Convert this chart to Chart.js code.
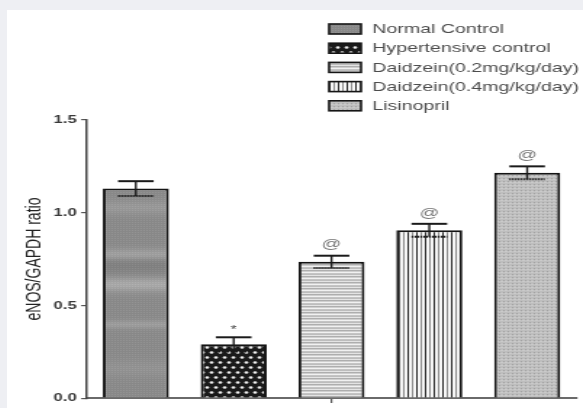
<!DOCTYPE html>
<html>
<head>
<meta charset="utf-8">
<script src="https://cdn.jsdelivr.net/npm/chart.js@4"></script>
<style>
  html, body { margin: 0; padding: 0; }
  body { width: 583px; height: 408px; background: #eeeff3; overflow: hidden; position: relative; }
  #panel { position: absolute; left: 7px; top: 10px; width: 576px; height: 398px; background: #fff; overflow: hidden; }
  /* the figure is drawn narrow and widened horizontally, like the exported graph */
  #wrap { position: absolute; left: 0; top: 0; width: 397px; height: 398px; transform: scaleX(1.4509); transform-origin: 0 0; }
</style>
</head>
<body>
<div id="panel"><div id="wrap"><canvas id="c"></canvas></div></div>
<script>
// Group names, mean eNOS/GAPDH ratios and their error (SEM)
const groups = ['Normal Control', 'Hypertensive control', 'Daidzein(0.2mg/kg/day)', 'Daidzein(0.4mg/kg/day)', 'Lisinopril'];
const ratioMean = [1.13, 0.29, 0.735, 0.905, 1.215];
const ratioSem = [0.04, 0.038, 0.033, 0.035, 0.035];
// Significance marks above each bar
const sigMarks = ['', '*', '@', '@', '@'];
// Y axis ticks
const yTicks = [0, 0.5, 1.0, 1.5];
const yTitle = 'eNOS/GAPDH ratio';

const canvas = document.getElementById('c');
const mainCtx = canvas.getContext('2d');

function tile(w, h, paint) {
  const t = document.createElement('canvas');
  t.width = w; t.height = h;
  paint(t.getContext('2d'), w, h);
  return mainCtx.createPattern(t, 'repeat');
}

// Normal Control: grey stipple with soft lighter bands
const patNormal = tile(4, 398, (g, w, h) => {
  const bands = [[197, 5, 14], [244, 4, 24], [254, 7, -10], [274, 5, 30], [314, 3, 18], [358, 6, 8]];
  for (let y = 0; y < h; y++) {
    let v = 138;
    bands.forEach(([c, s, a]) => { v += a * Math.exp(-((y - c) * (y - c)) / (2 * s * s)); });
    for (let x = 0; x < w; x++) {
      const d = (x % 2 === 0 && y % 2 === 0) ? 10 : -2;
      const c = Math.max(0, Math.min(255, Math.round(v + d)));
      g.fillStyle = `rgb(${c},${c},${c})`;
      g.fillRect(x, y, 1, 1);
    }
  }
});

// Hypertensive control: black ground with staggered white dots
const patHyper = tile(6, 10, (g, w, h) => {
  g.fillStyle = '#1a1a1a'; g.fillRect(0, 0, w, h);
  g.fillStyle = '#eeeeee';
  [[3, 2.5], [0, 7.5], [6, 7.5]].forEach(([x, y]) => { g.beginPath(); g.arc(x, y, 1.35, 0, Math.PI * 2); g.fill(); });
});

// Daidzein 0.2: horizontal grey stripes
const patLow = tile(2, 6, (g) => {
  ['#bdbdbd', '#e4e4e4', '#aeaeae', '#cfcfcf', '#f1f1f1', '#c4c4c4'].forEach((c, i) => { g.fillStyle = c; g.fillRect(0, i, 2, 1); });
});

// Daidzein 0.4: vertical lines on white
const patHigh = tile(6, 2, (g) => {
  g.fillStyle = '#f6f6f6'; g.fillRect(0, 0, 6, 2);
  g.fillStyle = '#2a2a2a'; g.fillRect(0, 0, 1, 2);
  g.fillStyle = '#8c8c8c'; g.fillRect(3, 0, 1, 2);
});

// Lisinopril: light grey fine stipple
const patLis = tile(3, 3, (g) => {
  g.fillStyle = '#bebebe'; g.fillRect(0, 0, 3, 3);
  g.fillStyle = '#a2a2a2'; g.fillRect(0, 0, 1, 1);
  g.fillStyle = '#cacaca'; g.fillRect(1, 1, 2, 1);
});

const fills = [patNormal, patHyper, patLow, patHigh, patLis];

// Error bars with dotted lower caps, and significance marks
const errorBars = {
  id: 'errorBars',
  afterDatasetsDraw(chart) {
    const ctx = chart.ctx, y = chart.scales.y;
    const meta = chart.getDatasetMeta(0);
    ctx.save();
    meta.data.forEach((bar, i) => {
      const x = bar.x;
      const hi = y.getPixelForValue(ratioMean[i] + ratioSem[i]);
      const lo = y.getPixelForValue(ratioMean[i] - ratioSem[i]);
      const half = bar.width * 0.27;
      ctx.strokeStyle = '#1a1a1a';
      ctx.setLineDash([]);
      ctx.lineWidth = 1.4;
      ctx.beginPath(); ctx.moveTo(x, hi); ctx.lineTo(x, lo); ctx.stroke();
      ctx.lineWidth = 2;
      ctx.beginPath(); ctx.moveTo(x - half, hi); ctx.lineTo(x + half, hi); ctx.stroke();
      ctx.setLineDash([1.2, 0.8]);
      ctx.beginPath(); ctx.moveTo(x - half, lo); ctx.lineTo(x + half, lo); ctx.stroke();
      ctx.setLineDash([]);
      const mark = sigMarks[i];
      if (mark) {
        ctx.textAlign = 'center';
        ctx.textBaseline = 'middle';
        if (mark === '*') {
          ctx.fillStyle = '#444';
          ctx.font = '11px "Liberation Sans", Arial, sans-serif';
          ctx.fillText(mark, x, hi - 7);
        } else {
          ctx.fillStyle = '#767676';
          ctx.font = '13.5px "Liberation Sans", Arial, sans-serif';
          ctx.fillText(mark, x, hi - 11);
        }
      }
    });
    ctx.restore();
  }
};

// Legend: pattern swatch + group name, stacked at the top right
const groupLegend = {
  id: 'groupLegend',
  afterDraw(chart) {
    const ctx = chart.ctx;
    ctx.save();
    ctx.font = '13.5px "Liberation Sans", Arial, sans-serif';
    ctx.textBaseline = 'middle';
    ctx.textAlign = 'left';
    groups.forEach((name, i) => {
      const cy = 19 + i * 19.2;
      const bx = 222, bw = 22, bh = 10;
      ctx.fillStyle = fills[i];
      ctx.fillRect(bx, cy - bh / 2, bw, bh);
      ctx.strokeStyle = '#151515';
      ctx.lineWidth = 1.6;
      ctx.strokeRect(bx, cy - bh / 2, bw, bh);
      ctx.fillStyle = '#4d4d4d';
      ctx.fillText(name, 251.7, cy + 0.5);
    });
    ctx.restore();
  }
};

new Chart(canvas, {
  type: 'bar',
  data: {
    labels: groups,
    datasets: [{
      data: ratioMean,
      backgroundColor: fills,
      borderColor: '#141414',
      borderWidth: 2,
      barPercentage: 0.675,
      categoryPercentage: 1
    }]
  },
  options: {
    responsive: true,
    maintainAspectRatio: false,
    animation: false,
    events: [],
    layout: { padding: { top: 110, right: 4.8, bottom: 0, left: 0 } },
    plugins: { legend: { display: false }, tooltip: { enabled: false } },
    scales: {
      x: {
        offset: true,
        afterFit(s) { s.height = 9; },
        ticks: { display: false },
        grid: {
          offset: false,
          drawOnChartArea: false,
          drawTicks: true,
          tickLength: 5,
          lineWidth: 1.2,
          tickColor: (c) => (c.index === 2 ? '#555' : 'rgba(0,0,0,0)')
        },
        border: { display: true, color: '#6a6a6a', width: 2 }
      },
      y: {
        min: 0,
        max: 1.5,
        afterFit(s) { s.width = 55.1; },
        afterBuildTicks(s) { s.ticks = yTicks.map(v => ({ value: v })); },
        ticks: {
          padding: 3,
          color: '#3a3a3a',
          font: { family: '"Liberation Sans", Arial, sans-serif', size: 11.5, weight: 'bold' },
          callback: (v) => Number(v).toFixed(1)
        },
        grid: { drawOnChartArea: false, drawTicks: true, tickLength: 4, color: '#555', lineWidth: 1.2 },
        border: { display: true, color: '#444', width: 1.5 },
        title: {
          display: true,
          text: yTitle,
          color: '#222',
          padding: { top: 10.9, bottom: 0 },
          font: { family: '"Liberation Sans", Arial, sans-serif', size: 14 }
        }
      }
    }
  },
  plugins: [errorBars, groupLegend]
});
</script>
</body>
</html>
